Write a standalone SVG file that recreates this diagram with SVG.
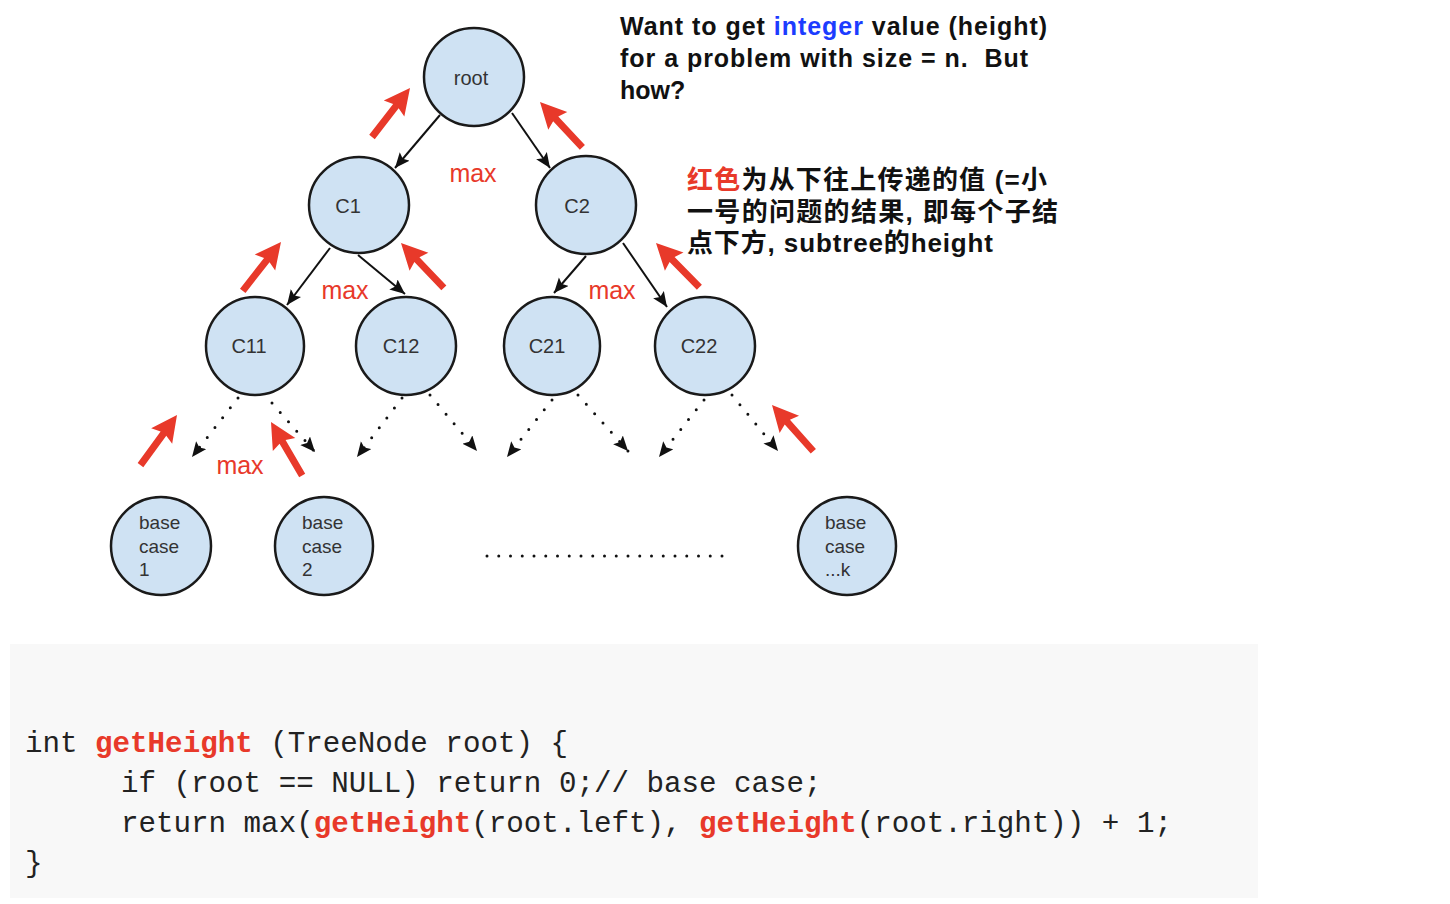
<svg xmlns="http://www.w3.org/2000/svg" xmlns:xlink="http://www.w3.org/1999/xlink" width="1450" height="904" viewBox="0 0 1450 904">
<style>
.node{fill:#cfe2f3;stroke:#1a1a1a;stroke-width:2.5}
.nl{font-family:"Liberation Sans",Arial,sans-serif;font-size:20px;fill:#333;text-anchor:middle}
.bl{font-family:"Liberation Sans",Arial,sans-serif;font-size:19px;fill:#333}
.solid{stroke:#111;stroke-width:2;fill:none;marker-end:url(#ah)}
.dot{stroke:#111;stroke-width:3;fill:none;stroke-linecap:round;stroke-dasharray:0 12.5;marker-end:url(#ah)}
.red{fill:#e8392a}
.max{font-family:"Liberation Sans",Arial,sans-serif;font-size:25px;fill:#e8392a}
.en{font-family:"Liberation Sans",Arial,sans-serif;font-size:25px;font-weight:bold;fill:#111}
.cn{font-family:"Liberation Sans","Noto Sans CJK SC",sans-serif;font-size:26px;font-weight:bold;fill:#111}
.code{font-family:"Liberation Mono","Courier New",monospace;font-size:29.2px;fill:#222;white-space:pre}
.fn{font-weight:bold;fill:#e8392a}
</style>
<defs>
<marker id="ah" markerUnits="userSpaceOnUse" markerWidth="16" markerHeight="14" refX="15" refY="6.5" orient="auto">
<path d="M0,0 L15,6.5 L0,13 L3,6.5 Z" fill="#111"/>
</marker>
<path id="ra" d="M0,0 L-26,-13 L-23,-3.5 L-62,-3.5 L-62,3.5 L-23,3.5 L-26,13 Z"/>
</defs>
<rect x="0" y="0" width="1450" height="904" fill="#fff"/>

<g id="connectors">
<line class="solid" x1="440" y1="115" x2="395" y2="168"/>
<line class="solid" x1="512" y1="113" x2="550" y2="168"/>
<line class="solid" x1="330" y1="248" x2="287" y2="305"/>
<line class="solid" x1="358" y1="255" x2="405" y2="294"/>
<line class="solid" x1="586" y1="256" x2="554" y2="293"/>
<line class="solid" x1="623" y1="243" x2="667" y2="307"/>
<line class="dot" x1="238" y1="398" x2="192" y2="457"/>
<line class="dot" x1="272" y1="403" x2="315" y2="452"/>
<line class="dot" x1="402" y1="398" x2="357" y2="457"/>
<line class="dot" x1="430" y1="395" x2="477" y2="451"/>
<line class="dot" x1="552" y1="400" x2="507" y2="457"/>
<line class="dot" x1="578" y1="395" x2="628" y2="451"/>
<line class="dot" x1="704" y1="400" x2="659" y2="457"/>
<line class="dot" x1="732" y1="395" x2="778" y2="451"/>
<line x1="487" y1="556" x2="723" y2="556" stroke="#111" stroke-width="3" stroke-linecap="round" stroke-dasharray="0 11.75"/>
</g>

<g id="red-arrows" class="red">
<use xlink:href="#ra" transform="translate(410,88) rotate(-52.2)"/>
<use xlink:href="#ra" transform="translate(540,102) rotate(-133.1)"/>
<use xlink:href="#ra" transform="translate(281,242) rotate(-51.9)"/>
<use xlink:href="#ra" transform="translate(401,243) rotate(-133.7)"/>
<use xlink:href="#ra" transform="translate(656,243) rotate(-134.4)"/>
<use xlink:href="#ra" transform="translate(177,415) rotate(-53.9)"/>
<use xlink:href="#ra" transform="translate(271,422) rotate(-120.2)"/>
<use xlink:href="#ra" transform="translate(772,405) rotate(-131.8)"/>
</g>

<g id="max-labels">
<text class="max" x="473" y="182" text-anchor="middle">max</text>
<text class="max" x="345" y="299" text-anchor="middle">max</text>
<text class="max" x="612" y="299" text-anchor="middle">max</text>
<text class="max" x="240" y="474" text-anchor="middle">max</text>
</g>

<g id="root"><ellipse class="node" cx="474" cy="77" rx="50" ry="49"/><text class="nl" x="471" y="85">root</text></g>
<g id="c1"><ellipse class="node" cx="359" cy="205" rx="50" ry="48"/><text class="nl" x="348" y="213">C1</text></g>
<g id="c2"><ellipse class="node" cx="586" cy="205" rx="50" ry="49"/><text class="nl" x="577" y="213">C2</text></g>
<g id="c11"><ellipse class="node" cx="255" cy="346" rx="49" ry="49"/><text class="nl" x="249" y="353">C11</text></g>
<g id="c12"><ellipse class="node" cx="406" cy="346" rx="50" ry="49"/><text class="nl" x="401" y="353">C12</text></g>
<g id="c21"><ellipse class="node" cx="552" cy="346" rx="48" ry="49"/><text class="nl" x="547" y="353">C21</text></g>
<g id="c22"><ellipse class="node" cx="705" cy="346" rx="50" ry="49"/><text class="nl" x="699" y="353">C22</text></g>
<g id="base1"><ellipse class="node" cx="161" cy="546" rx="50" ry="49"/><text class="bl" x="139" y="529">base</text><text class="bl" x="139" y="553">case</text><text class="bl" x="139" y="576">1</text></g>
<g id="base2"><ellipse class="node" cx="324" cy="546" rx="49" ry="49"/><text class="bl" x="302" y="529">base</text><text class="bl" x="302" y="553">case</text><text class="bl" x="302" y="576">2</text></g>
<g id="basek"><ellipse class="node" cx="847" cy="546" rx="49" ry="49"/><text class="bl" x="825" y="529">base</text><text class="bl" x="825" y="553">case</text><text class="bl" x="825" y="576">...k</text></g>

<g id="note-en">
<text class="en" x="620" y="35" textLength="427" lengthAdjust="spacing">Want to get <tspan fill="#1c3cff">integer</tspan> value (height)</text>
<text class="en" x="620" y="67" textLength="408" lengthAdjust="spacing" xml:space="preserve">for a problem with size = n.  But</text>
<text class="en" x="620" y="99">how?</text>
</g>

<g id="note-cn">
<text class="cn" x="687" y="189" textLength="360" lengthAdjust="spacing"><tspan fill="#e8392a">红色</tspan>为从下往上传递的值 (=小</text>
<text class="cn" x="687" y="221" textLength="371" lengthAdjust="spacing">一号的问题的结果, 即每个子结</text>
<text class="cn" x="687" y="252" textLength="306" lengthAdjust="spacing">点下方, subtree的height</text>
</g>

<g id="code">
<rect x="10" y="644" width="1248" height="254" fill="#f8f8f8"/>
<text class="code" x="25" y="752" xml:space="preserve">int <tspan class="fn">getHeight</tspan> (TreeNode root) {</text>
<text class="code" x="121" y="792" xml:space="preserve">if (root == NULL) return 0;// base case;</text>
<text class="code" x="121" y="832" xml:space="preserve">return max(<tspan class="fn">getHeight</tspan>(root.left), <tspan class="fn">getHeight</tspan>(root.right)) + 1;</text>
<text class="code" x="25" y="872">}</text>
</g>
</svg>
